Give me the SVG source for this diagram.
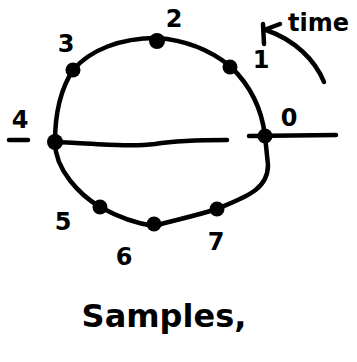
<svg xmlns="http://www.w3.org/2000/svg" width="357" height="362" viewBox="0 0 357 362">
<style>
.s{fill:none;stroke:#000;stroke-width:4.5;stroke-linecap:round;stroke-linejoin:round}
.d{fill:#000}
.t{font-family:"DejaVu Sans",sans-serif;font-size:24px;font-weight:bold;fill:#000}
</style>
<rect width="357" height="362" fill="#fff"/>
<g id="connectors">
<path class="s" d="M265,136 C262,110 250,85 230,66 C210,50 185,40 157,38 C120,38 90,50 73,70 C60,90 55,115 55,142 C55,170 80,195 100,207 C120,218 140,224 154,226 C175,220 195,216 217,209 C245,197 268,190 268,165 L265,136"/>
<path class="s" d="M55,142 C100,144 130,147 155,144 C180,140 205,140 227,140"/>
<path class="s" d="M249,136 L336,135"/>
<path class="s" d="M9,140 L28,140"/>
<path class="s" d="M324,82 C315,60 295,40 266,30"/>
<path class="s" d="M263,24 L264,44 M264,30 L280,24"/>
</g>
<g id="n0"><circle class="d" cx="265" cy="136" r="7.5"/><text class="t" x="289" y="126" text-anchor="middle">0</text></g>
<g id="n1"><circle class="d" cx="230" cy="67" r="7.5"/><text class="t" x="261" y="68" text-anchor="middle">1</text></g>
<g id="n2"><circle class="d" cx="157" cy="41" r="8"/><text class="t" x="174" y="27" text-anchor="middle">2</text></g>
<g id="n3"><circle class="d" cx="73" cy="70" r="7.5"/><text class="t" x="66" y="52" text-anchor="middle">3</text></g>
<g id="n4"><circle class="d" cx="55" cy="142" r="8"/><text class="t" x="20" y="128" text-anchor="middle">4</text></g>
<g id="n5"><circle class="d" cx="100" cy="207" r="7.5"/><text class="t" x="63" y="230" text-anchor="middle">5</text></g>
<g id="n6"><circle class="d" cx="154" cy="224" r="7.5"/><text class="t" x="124" y="265" text-anchor="middle">6</text></g>
<g id="n7"><circle class="d" cx="217" cy="209" r="7.5"/><text class="t" x="216" y="250" text-anchor="middle">7</text></g>
<g id="time"><text class="t" x="288" y="31" style="font-size:24px">time</text></g>
<g id="samples"><text class="t" x="164" y="327" text-anchor="middle" style="font-size:32px">Samples,</text></g>
</svg>
